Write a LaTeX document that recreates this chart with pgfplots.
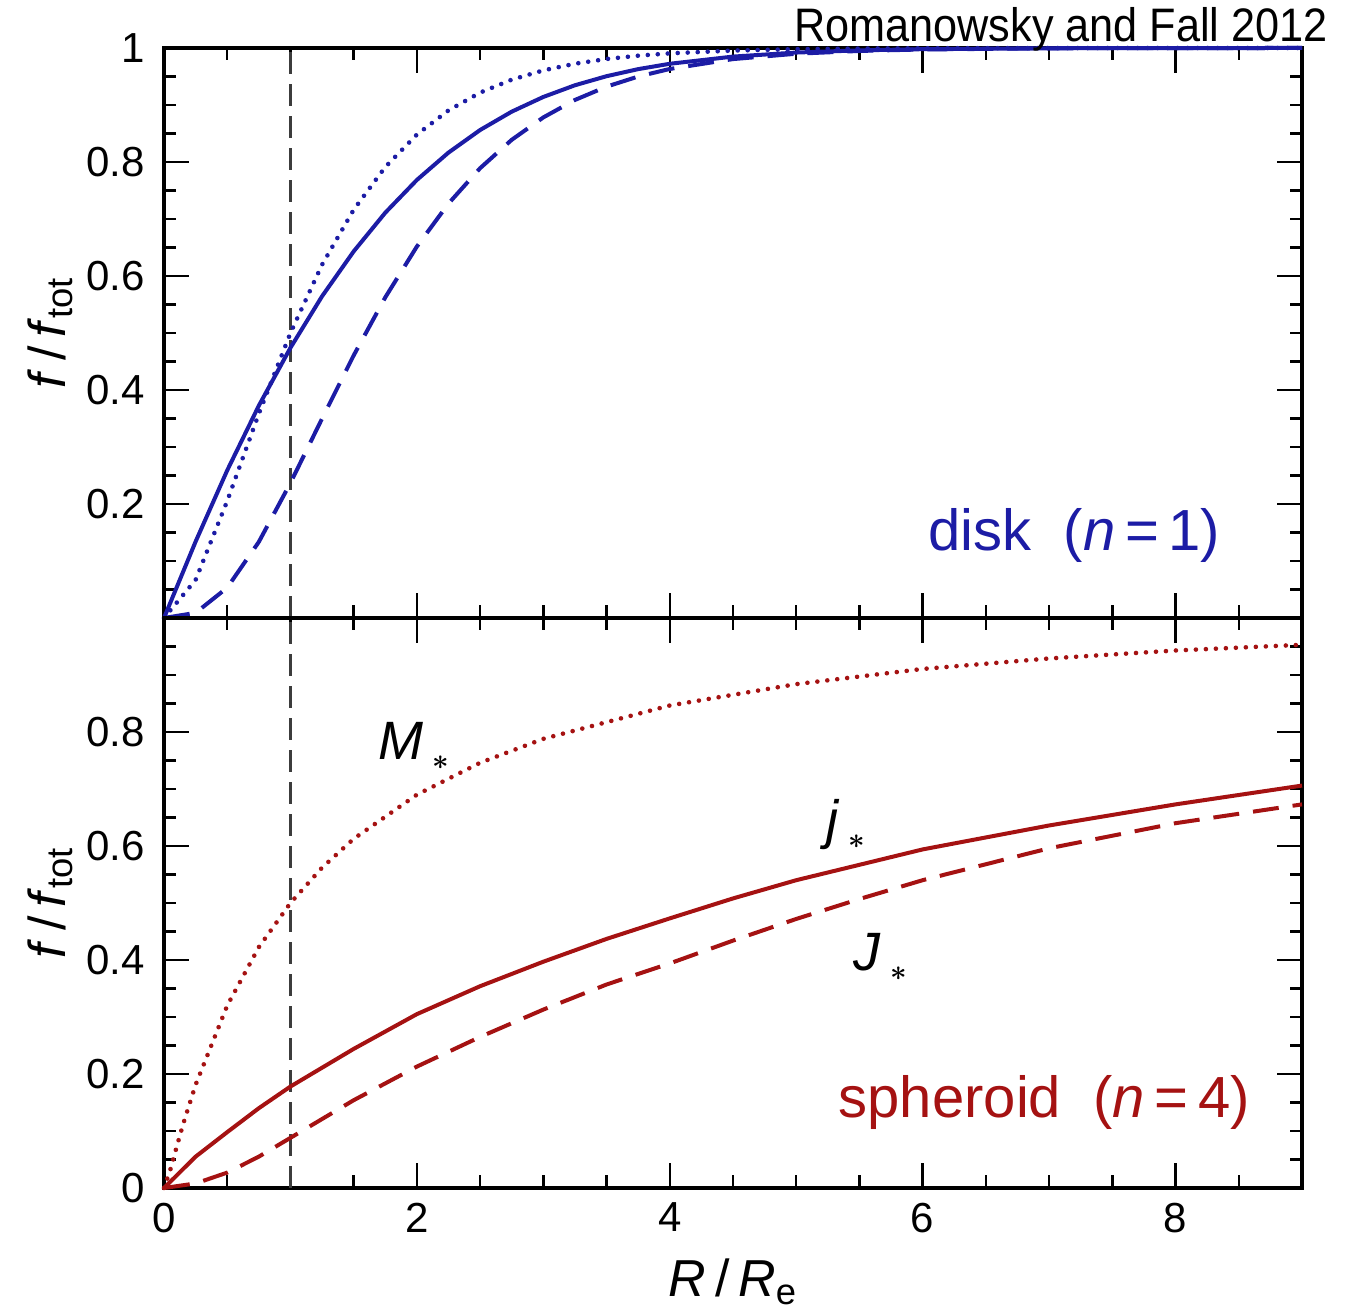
\documentclass[border=0pt]{standalone}
\usepackage{fontspec}
\setmainfont{Liberation Sans}
\usepackage{pgfplots}
\pgfplotsset{compat=1.18}
\definecolor{dblue}{RGB}{28,28,165}
\definecolor{dred}{RGB}{165,18,18}
\definecolor{vgray}{RGB}{60,60,60}

\pgfplotstableread{
R     M       J       j
0     0       0       0
0.25  0.0668  0.0090  0.134
0.5   0.2053  0.0532  0.259
0.75  0.3584  0.1335  0.3725
1     0.5000  0.2369  0.474
1.25  0.6198  0.3498  0.5644
1.5   0.7162  0.4606  0.6431
1.75  0.7912  0.5625  0.711
2     0.8481  0.6517  0.7685
2.25  0.8905  0.7271  0.8165
2.5   0.9217  0.7891  0.8561
2.75  0.9444  0.8389  0.8883
3     0.9607  0.8782  0.9141
3.25  0.9724  0.9088  0.9346
3.5   0.9807  0.9322  0.9505
3.75  0.9865  0.9499  0.9629
4     0.9906  0.9632  0.9723
4.5   0.9955  0.9805  0.9849
5     0.9979  0.9899  0.9920
5.5   0.9990  0.9948  0.9958
6     0.9995  0.9974  0.9979
7     0.9999  0.9994  0.9995
8     1.0     0.9999  0.9999
9     1.0     1.0     1.0
}\disk

\pgfplotstableread{
R     M
0     0
0.05  0.032
0.1   0.072
0.15  0.111
0.25  0.181
0.5   0.320
0.75  0.4225
1     0.500
1.25  0.562
1.5   0.6126
2     0.690
2.5   0.746
3     0.788
4     0.8465
5     0.884
6     0.9106
7     0.929
8     0.943
9     0.953
}\sphM

\pgfplotstableread{
R     j      J
0     0      0
0.25  0.055  0.008
0.5   0.098  0.027
0.75  0.140  0.055
1     0.178  0.088
1.5   0.244  0.154
2     0.305  0.213
2.5   0.354  0.265
3     0.397  0.313
3.5   0.437  0.357
4     0.473  0.394
4.5   0.508  0.434
5     0.540  0.472
5.5   0.567  0.507
6     0.594  0.540
7     0.636  0.596
8     0.673  0.640
9     0.706  0.673
}\sphJ

\pgfplotsset{
  panel/.style={
    width=569pt, height=285pt, scale only axis,
    xmin=0, xmax=9, ymin=0, ymax=1,
    xtick={0,2,4,6,8}, minor xtick={0,0.5,...,9},
    minor ytick={0,0.05,...,1},
    tick align=inside, xtick pos=both, ytick pos=both,
    major tick length=12.5pt, minor tick length=6.25pt,
    axis line style={line width=1.6pt},
    tick style={line width=1.2pt, black},
    tick label style={font=\fontsize{21}{21}\selectfont},
    yticklabel style={xshift=-6pt},
    xticklabel style={yshift=-4pt},
    /pgf/number format/assume math mode=true,
    clip=false,
  },
  solidc/.style={line width=2pt},
  dashc/.style={line width=2pt, dash pattern=on 13pt off 7pt},
  dotc/.style={line width=2.3pt, line cap=round, dash pattern=on 0pt off 5pt},
  vline/.style={vgray, line width=1.1pt, dash pattern=on 11pt off 5pt},
}
\newcommand{\st}{\raisebox{-0.35ex}{\fontsize{15}{15}\selectfont\boldmath$\ast$}}

\begin{document}
\begin{tikzpicture}
\useasboundingbox (-82pt,-64pt) rectangle (603pt,594pt);
% top panel: disk
\begin{axis}[panel, at={(0,285pt)}, anchor=south west,
    ytick={0.2,0.4,0.6,0.8,1}, xticklabel style={opacity=0}]
  \addplot[vline] coordinates {(1,0) (1,1)};
  \addplot[dblue, dotc] table[x=R, y=M] {\disk};
  \addplot[dblue, solidc] table[x=R, y=j] {\disk};
  \addplot[dblue, dashc] table[x=R, y=J] {\disk};
  \node[anchor=base west, dblue, font=\fontsize{29}{29}\selectfont]
    at (axis cs:5.99,0.118) {disk\ \ (\textit{n}\,=\,1)};
  \node[anchor=base east, font=\fontsize{23.5}{23.5}\selectfont]
    at (axis cs:9.26,1.012) {\scalebox{0.92}[1]{Romanowsky and Fall 2012}};
  \node[rotate=90, font=\fontsize{26}{26}\selectfont]
    at (axis description cs:-0.1,0.5) {\textit{f}\,/\,\textit{f}\textsubscript{tot}};
\end{axis}
% bottom panel: spheroid
\begin{axis}[panel, at={(0,0)}, anchor=south west,
    ytick={0,0.2,0.4,0.6,0.8}]
  \addplot[vline] coordinates {(1,0) (1,1)};
  \addplot[dred, dotc] table[x=R, y=M] {\sphM};
  \addplot[dred, solidc] table[x=R, y=j] {\sphJ};
  \addplot[dred, dashc] table[x=R, y=J] {\sphJ};
  \node[anchor=base west, dred, font=\fontsize{29}{29}\selectfont]
    at (axis cs:5.28,0.123) {spheroid\ \ (\textit{n}\,=\,4)};
  \node[anchor=base west, font=\fontsize{27}{27}\selectfont]
    at (axis cs:1.64,0.751) {\textit{M}\,\st};
  \node[anchor=base west, font=\fontsize{27}{27}\selectfont]
    at (axis cs:5.18,0.614) {\textit{j}\,\st};
  \node[anchor=base west, font=\fontsize{27}{27}\selectfont]
    at (axis cs:5.40,0.382) {\textit{J}\,\st};
  \node[rotate=90, font=\fontsize{26}{26}\selectfont]
    at (axis description cs:-0.1,0.5) {\textit{f}\,/\,\textit{f}\textsubscript{tot}};
  \node[font=\fontsize{26}{26}\selectfont]
    at (axis description cs:0.5,-0.165) {\textit{R}\,/\,\textit{R}\textsubscript{e}};
\end{axis}
\end{tikzpicture}
\end{document}
